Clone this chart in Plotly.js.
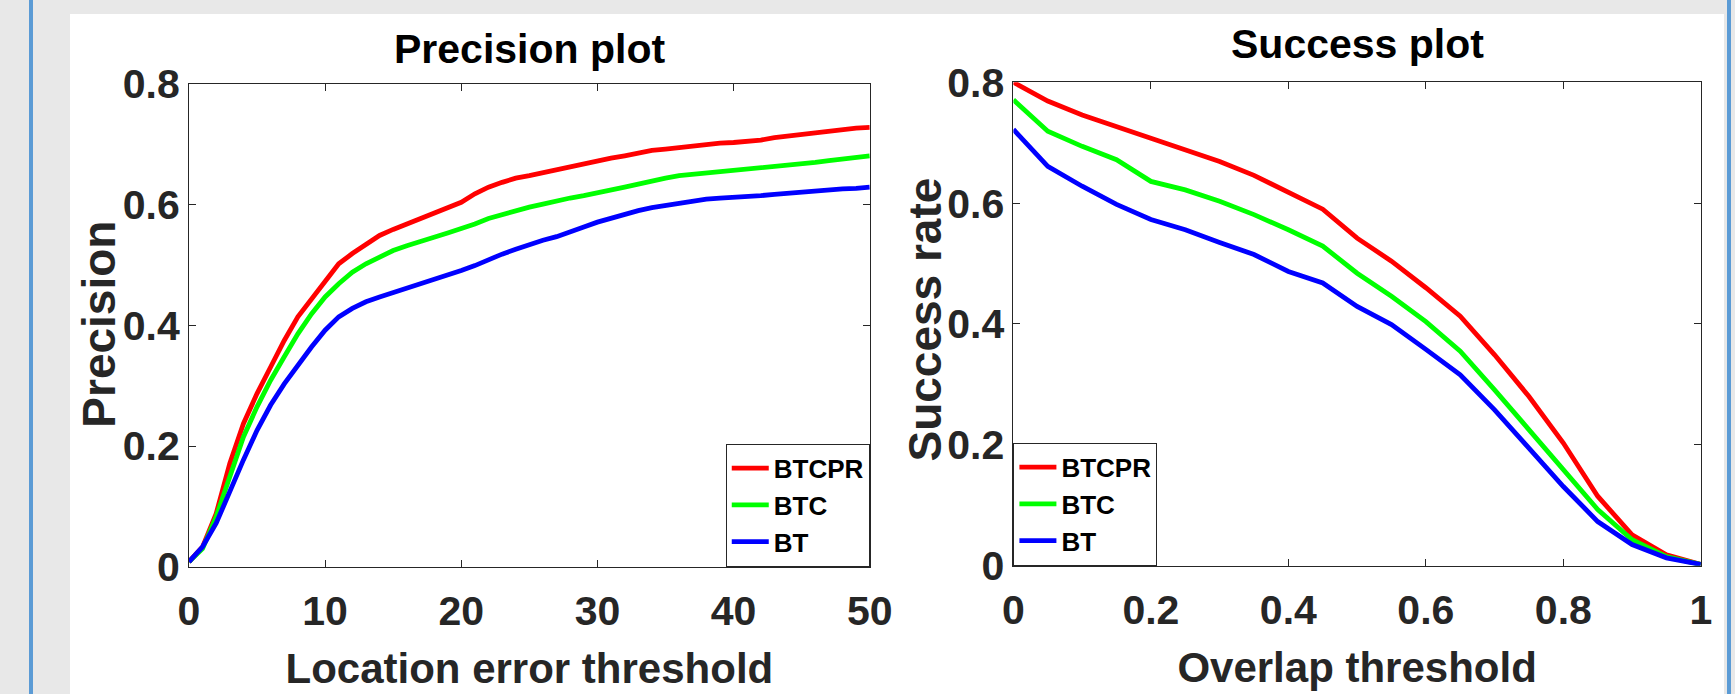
<!DOCTYPE html>
<html><head><meta charset="utf-8">
<script src="https://cdn.plot.ly/plotly-3.0.1.min.js"></script>
<style>
html,body{margin:0;padding:0;width:1735px;height:694px;overflow:hidden;background:#e8e8e8;}
#bl{position:absolute;left:29px;top:0;width:4px;height:694px;background:#5b9bd5;}
#br{position:absolute;left:1727px;top:0;width:4px;height:694px;background:#5b9bd5;}
#wp{position:absolute;left:70px;top:14px;width:1654px;height:680px;background:#ffffff;}
#chart{position:absolute;left:0;top:0;width:1735px;height:694px;}
</style></head><body>
<div id="bl"></div><div id="br"></div><div id="wp"></div><div id="chart"></div>
<script>
// ---- Data ----
const seriesNames = ["BTCPR", "BTC", "BT"];
const seriesColors = ["#ff0000", "#00ff00", "#0000ff"];

const locationThresholds = [0,1,2,3,4,5,6,7,8,9,10,11,12,13,14,15,16,17,18,19,20,21,22,23,24,25,26,27,28,29,30,31,32,33,34,35,36,37,38,39,40,41,42,43,44,45,46,47,48,49,50];
const precisionBTCPR = [0.008,0.033,0.088,0.171,0.237,0.287,0.331,0.375,0.414,0.444,0.474,0.502,0.519,0.535,0.549,0.559,0.568,0.577,0.585,0.595,0.604,0.618,0.629,0.637,0.644,0.648,0.653,0.657,0.661,0.666,0.671,0.677,0.681,0.686,0.690,0.692,0.695,0.698,0.700,0.702,0.703,0.705,0.707,0.711,0.714,0.717,0.720,0.723,0.724,0.727,0.728];
const precisionBTC = [0.008,0.030,0.083,0.149,0.215,0.265,0.309,0.348,0.386,0.419,0.447,0.469,0.488,0.502,0.513,0.524,0.532,0.540,0.546,0.553,0.560,0.568,0.577,0.584,0.590,0.596,0.601,0.607,0.611,0.615,0.619,0.623,0.629,0.634,0.640,0.644,0.648,0.650,0.653,0.654,0.657,0.658,0.660,0.662,0.665,0.668,0.670,0.673,0.676,0.679,0.681];
const precisionBT = [0.008,0.033,0.072,0.127,0.177,0.226,0.268,0.303,0.334,0.364,0.392,0.414,0.428,0.439,0.447,0.454,0.462,0.469,0.477,0.484,0.491,0.499,0.509,0.518,0.526,0.534,0.541,0.547,0.554,0.563,0.571,0.578,0.585,0.590,0.595,0.599,0.603,0.606,0.609,0.611,0.612,0.614,0.615,0.617,0.619,0.621,0.622,0.624,0.626,0.627,0.629];

const overlapThresholds = [0,0.05,0.1,0.15,0.2,0.25,0.3,0.35,0.4,0.45,0.5,0.55,0.6,0.65,0.7,0.75,0.8,0.85,0.9,0.95,1.0];
const successBTCPR = [0.800,0.769,0.746,0.727,0.706,0.689,0.669,0.646,0.617,0.590,0.542,0.504,0.460,0.413,0.349,0.280,0.203,0.115,0.051,0.018,0.002];
const successBTC = [0.771,0.719,0.694,0.672,0.636,0.622,0.603,0.581,0.556,0.529,0.484,0.446,0.404,0.355,0.291,0.225,0.159,0.093,0.043,0.015,0.002];
const successBT = [0.722,0.661,0.628,0.598,0.573,0.556,0.535,0.515,0.487,0.468,0.429,0.399,0.358,0.316,0.258,0.195,0.131,0.073,0.035,0.013,0.002];

const precisionTicks = [0,10,20,30,40,50];
const successXTicks = [0,0.2,0.4,0.6,0.8,1];
const yTicks = [0,0.2,0.4,0.6,0.8];

// ---- Build ----
const FONT = "Liberation Sans, Arial, Helvetica, sans-serif";
const precisionSeries = [precisionBTCPR, precisionBTC, precisionBT];
const successSeries = [successBTCPR, successBTC, successBT];

const traces = [];
seriesNames.forEach((name, i) => {
  traces.push({x: locationThresholds, y: precisionSeries[i], type: "scatter", mode: "lines",
    name: name, line: {color: seriesColors[i], width: 4.8}, xaxis: "x", yaxis: "y", legend: "legend"});
});
seriesNames.forEach((name, i) => {
  traces.push({x: overlapThresholds, y: successSeries[i], type: "scatter", mode: "lines",
    name: name, line: {color: seriesColors[i], width: 4.8}, xaxis: "x2", yaxis: "y2", legend: "legend2"});
});

const tickFont = {family: FONT, size: 41, color: "#262626", weight: "bold"};
function axisCommon(extra) {
  return Object.assign({
    showgrid: false, zeroline: false, showline: true, linecolor: "#262626", linewidth: 1,
    mirror: "ticks", ticks: "inside", ticklen: 7, tickwidth: 1, tickcolor: "#262626",
    tickfont: tickFont, fixedrange: true
  }, extra);
}

const legendCommon = {
  font: {family: FONT, size: 26, color: "#000000", weight: "bold"},
  bgcolor: "#ffffff", bordercolor: "#262626", borderwidth: 1,
  yanchor: "bottom", tracegroupgap: 0, itemwidth: 37
};

const yTitleFont = {family: FONT, size: 46, color: "#262626", weight: "bold"};
const xTitleFont = {family: FONT, size: 42, color: "#262626", weight: "bold"};
const plotTitleFont = {family: FONT, size: 41, color: "#000000", weight: "bold"};

const layout = {
  width: 1735, height: 694,
  margin: {l: 0, r: 0, t: 0, b: 0},
  paper_bgcolor: "rgba(0,0,0,0)",
  plot_bgcolor: "#ffffff",
  showlegend: true,
  xaxis: axisCommon({domain: [0.1089, 0.5013], range: [0, 50], tickvals: precisionTicks, anchor: "y", ticklabelstandoff: 8,
    title: {text: "Location error threshold", font: xTitleFont, standoff: 20}}),
  yaxis: axisCommon({domain: [0.1834, 0.8790], range: [0, 0.8], tickvals: yTicks, anchor: "x"}),
  xaxis2: axisCommon({domain: [0.5841, 0.9803], range: [0, 1], tickvals: successXTicks, anchor: "y2", ticklabelstandoff: 8,
    title: {text: "Overlap threshold", font: xTitleFont, standoff: 20}}),
  yaxis2: axisCommon({domain: [0.1849, 0.8814], range: [0, 0.8], tickvals: yTicks, anchor: "x2"}),
  legend: Object.assign({}, legendCommon, {x: 0.5013, xanchor: "right", y: 0.1834}),
  legend2: Object.assign({}, legendCommon, {x: 0.5841, xanchor: "left", y: 0.1849}),
  annotations: [
    {text: "Precision plot", xref: "paper", yref: "paper", x: 0.3051, y: 0.930, xanchor: "center", yanchor: "middle",
     showarrow: false, font: plotTitleFont},
    {text: "Success plot", xref: "paper", yref: "paper", x: 0.7822, y: 0.936, xanchor: "center", yanchor: "middle",
     showarrow: false, font: plotTitleFont},
    {text: "Precision", xref: "paper", yref: "paper", x: 0.0574, y: 0.533, xanchor: "center", yanchor: "middle",
     textangle: -90, showarrow: false, font: yTitleFont},
    {text: "Success rate", xref: "paper", yref: "paper", x: 0.5333, y: 0.540, xanchor: "center", yanchor: "middle",
     textangle: -90, showarrow: false, font: yTitleFont}
  ]
};

Plotly.newPlot("chart", traces, layout, {staticPlot: true, displayModeBar: false});
</script>
</body></html>
